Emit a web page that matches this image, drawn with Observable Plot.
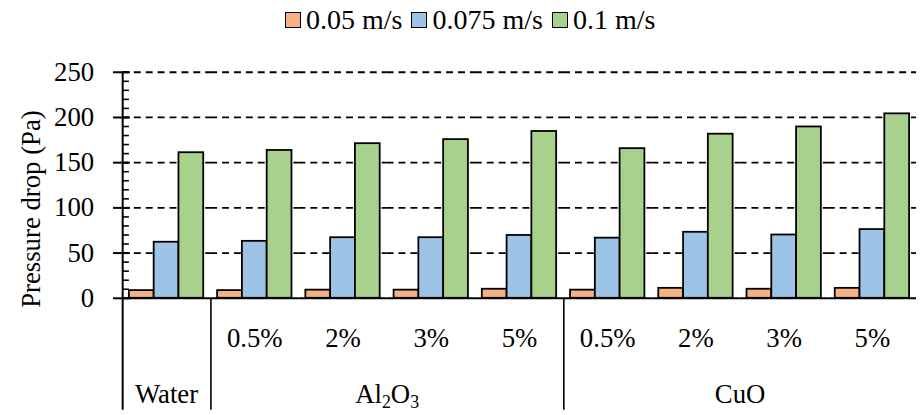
<!DOCTYPE html>
<html>
<head>
<meta charset="utf-8">
<script src="https://cdn.jsdelivr.net/npm/d3@7"></script>
<script src="https://cdn.jsdelivr.net/npm/@observablehq/plot@0.6"></script>
<style>
  html, body { margin: 0; padding: 0; background: #fff; overflow: hidden; width: 920px; height: 415px; }
  #legend { height: 44px; display: flex; align-items: center; padding-left: 285px; padding-bottom: 4px; box-sizing: border-box;
            font-family: "Liberation Serif", serif; font-size: 28px; color: #000; white-space: nowrap; }
  .item { display: flex; align-items: center; margin-right: 9px; }
  .sw { width: 14px; height: 14px; border: 1.6px solid #000; margin-right: 5px; }
  #chart svg { display: block; }
</style>
</head>
<body>
<div id="legend"></div>
<div id="chart"></div>
<script>
// ---- data ----
const series = ["0.05 m/s", "0.075 m/s", "0.1 m/s"];
const colors = ["#F4B183", "#9DC3E6", "#A9D18E"];
const families = ["Water", "Al2O3", "CuO"];
const concentrations = ["0.5%", "2%", "3%", "5%"];
const groupFamily = ["Water", "Al2O3", "Al2O3", "Al2O3", "Al2O3", "CuO", "CuO", "CuO", "CuO"];
const groupConc   = ["", "0.5%", "2%", "3%", "5%", "0.5%", "2%", "3%", "5%"];
const v005  = [8.5, 8.5, 9, 9, 10, 9, 11, 10, 11];
const v0075 = [62, 63, 67, 67, 69.5, 66.5, 73, 70, 76];
const v01   = [161, 163.5, 171, 175.5, 184.5, 165.5, 181.5, 189.5, 204];
const yMajor = [0, 50, 100, 150, 200, 250];
const yMinor = d3.range(0, 251, 10);
const yLabel = "Pressure drop (Pa)";

// ---- derived tables ----
const values = [v005, v0075, v01];
const keys = groupFamily.map((f, i) => f + " " + groupConc[i]);
const rows = keys.flatMap((k, i) => series.map((s, j) => ({key: k, series: s, value: values[j][i]})));
const concRows = keys.map((k, i) => ({key: k, label: groupConc[i]})).filter(d => d.label);
// family label: single group -> centred on it; several groups -> centred on their middle boundary
const famRows = families.map(f => {
  const ks = keys.filter((k, i) => groupFamily[i] === f);
  return {family: f, single: ks.length === 1, key: ks.length === 1 ? ks[0] : ks[ks.length / 2 - 1]};
});
const sepKeys = families.map(f => keys[groupFamily.indexOf(f)]);

// ---- legend ----
const legend = document.getElementById("legend");
series.forEach((s, j) => {
  const it = document.createElement("div"); it.className = "item";
  const sw = document.createElement("div"); sw.className = "sw"; sw.style.background = colors[j];
  const tx = document.createElement("span"); tx.textContent = s;
  it.append(sw, tx); legend.append(it);
});

// ---- layout ----
const W = 928, H = 371, ML = 119, MR = 0, MT = 28, MB = 115, PO = 0.25, FS = 27;
const fw = (W - ML - MR) / keys.length;
const step = fw / (series.length + 2 * PO);
const edgeDx = -(PO + 0.5) * step; // from first band centre to facet's left edge
const below = 113;

const chart = Plot.plot({
  width: W, height: H,
  marginLeft: ML, marginRight: MR, marginTop: MT, marginBottom: MB,
  style: {fontFamily: "Liberation Serif, serif", fontSize: FS + "px", color: "#000", background: "#fff", overflow: "visible"},
  fx: {domain: keys, padding: 0, axis: null},
  x: {domain: series, paddingInner: 0, paddingOuter: PO, axis: null},
  y: {domain: [0, 250]},
  color: {domain: series, range: colors},
  marks: [
    Plot.gridY(yMajor.filter(v => v > 0), {stroke: "#000", strokeOpacity: 1, strokeWidth: 1.8, strokeDasharray: "7,5"}),
    Plot.barY(rows, {fx: "key", x: "series", y: "value", fill: "series", stroke: "#000", strokeWidth: 1.8}),
    Plot.ruleY([0], {stroke: "#000", strokeWidth: 2}),
    // y axis line, extended down as the first separator
    Plot.ruleX([sepKeys[0]], {fx: d => d, x: () => series[0], dx: edgeDx, insetBottom: -below, stroke: "#000", strokeWidth: 2}),
    // other separators below the baseline
    Plot.ruleX(sepKeys.slice(1), {fx: d => d, x: () => series[0], dx: edgeDx, y1: 0, y2: 0, insetBottom: -below, stroke: "#000", strokeWidth: 1.6}),
    Plot.axisY({ticks: yMajor, tickSize: 17, dx: 8, tickPadding: 19.5, strokeWidth: 2, label: null, fontSize: FS}),
    Plot.axisY({ticks: yMinor, tickSize: -7, tickFormat: () => "", strokeWidth: 1.6, label: null}),
    Plot.text([{key: keys[0], t: yLabel}], {fx: "key", text: "t", frameAnchor: "left", textAnchor: "middle", lineAnchor: "middle", rotate: -90, dx: -92, dy: 24, fontSize: FS}),
    Plot.text(concRows, {fx: "key", text: "label", frameAnchor: "bottom", lineAnchor: "middle", dy: 40, fontSize: FS}),
    Plot.text(famRows.filter(d => d.single), {fx: "key", text: "family", frameAnchor: "bottom", lineAnchor: "middle", dy: 97, fontSize: FS}),
    Plot.text(famRows.filter(d => !d.single), {fx: "key", text: "family", frameAnchor: "bottom-right", textAnchor: "middle", lineAnchor: "middle", dy: 97, fontSize: FS})
  ]
});
document.getElementById("chart").append(chart);

// chemical subscripts
d3.select(chart).selectAll("text").filter(function() { return this.textContent === "Al2O3"; }).each(function() {
  const t = d3.select(this); t.text("");
  [["Al", false], ["2", true], ["O", false], ["3", true]].forEach(([s, sub], i, arr) => {
    const ts = t.append("tspan").text(s);
    if (sub) ts.attr("font-size", 18).attr("dy", 5);
    else if (i > 0 && arr[i - 1][1]) ts.attr("dy", -5);
  });
});
</script>
</body>
</html>
